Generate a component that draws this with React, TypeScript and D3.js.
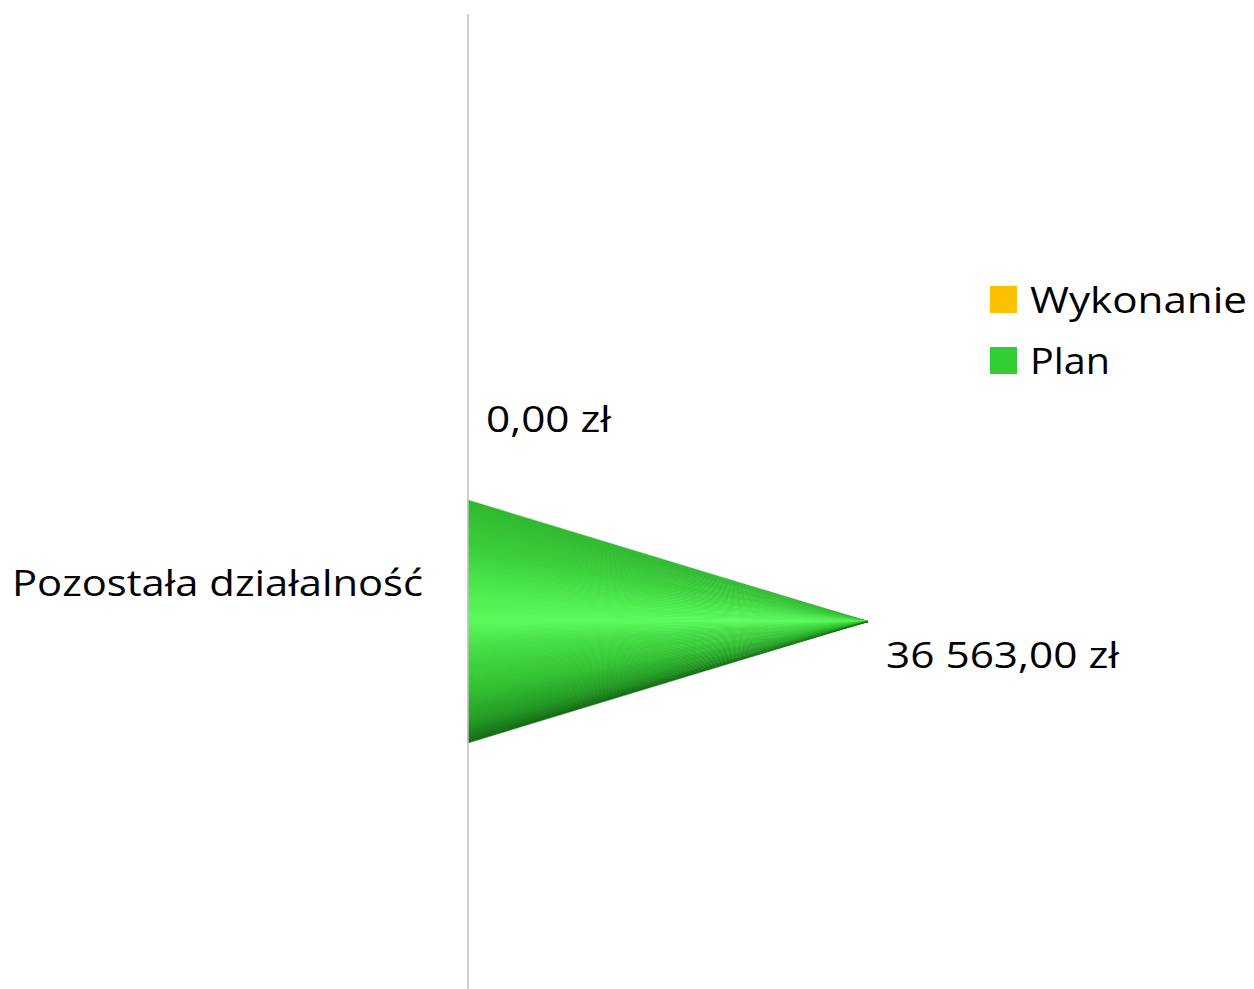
import React from "react";
import * as d3 from "d3";

const categories = ["Pozostała działalność"];
const seriesNames = ["Wykonanie", "Plan"];
const seriesColors = ["#FFC000", "#33CC33"];
const wykonanieValues = [0];
const planValues = [36563];
const valueLabels = ["0,00 zł", "36 563,00 zł"];

const W = 1254;
const H = 989;

const coneStops: [number, string][] = [
  [0, "#30b830"],
  [0.2, "#3bcf3b"],
  [0.4, "#52ef52"],
  [0.5, "#5cfa5c"],
  [0.6, "#48e048"],
  [0.78, "#33c233"],
  [0.92, "#249a24"],
  [1, "#156b15"],
];

function coneColor(t: number) {
  const s = d3
    .scaleLinear<string>()
    .domain(coneStops.map((d) => d[0]))
    .range(coneStops.map((d) => d[1]))
    .interpolate(d3.interpolateRgb)
    .clamp(true);
  return s(t);
}

export default function App() {
  const x = d3.scaleLinear().domain([0, planValues[0]]).range([468, 868]);
  const yCat = d3.scaleBand().domain(categories).range([14, 989]);
  const ySeries = d3
    .scaleBand()
    .domain(seriesNames)
    .range([257, 743])
    .paddingInner(0)
    .paddingOuter(0);
  const font = "'Open Sans', 'Liberation Sans', sans-serif";

  const data = [
    { name: "Wykonanie", value: wykonanieValues[0], label: valueLabels[0] },
    { name: "Plan", value: planValues[0], label: valueLabels[1] },
  ];

  const bw = ySeries.bandwidth();
  const nSlices = 80;

  return (
    <svg width={W} height={H} style={{ position: "absolute", left: 0, top: 0 }}>
      <rect x={0} y={0} width={W} height={H} fill="#fff" />
      {data.map((d) => {
        const y0 = ySeries(d.name)!;
        const tipX = x(d.value);
        const cy = y0 + bw / 2;
        if (d.value <= 0) return null;
        return (
          <g key={d.name}>
            {d3.range(nSlices).map((k) => {
              const a = y0 + (bw * k) / nSlices;
              const b = y0 + (bw * (k + 1)) / nSlices + 0.6;
              return (
                <path
                  key={k}
                  d={`M${x(0)},${a}L${tipX},${cy}L${x(0)},${Math.min(b, y0 + bw)}Z`}
                  fill={coneColor((k + 0.5) / nSlices)}
                  stroke={coneColor((k + 0.5) / nSlices)}
                  strokeWidth={0.4}
                />
              );
            })}
          </g>
        );
      })}
      <line
        x1={x(0)}
        x2={x(0)}
        y1={yCat.range()[0]}
        y2={yCat.range()[1]}
        stroke="#BFBFBF"
        strokeWidth={1.5}
      />
      {data.map((d) => {
        const cy = ySeries(d.name)! + bw / 2;
        return (
          <text
            key={d.name + "l"}
            x={x(d.value) + 18}
            y={cy + (d.value > 0 ? 46 : 53)}
            fontFamily={font}
            fontSize={37}
            fill="#000"
            textLength={d.name === "Plan" ? 233 : 125}
            lengthAdjust="spacingAndGlyphs"
          >
            {d.label}
          </text>
        );
      })}
      {categories.map((c) => (
        <text
          key={c}
          x={12}
          y={ySeries("Plan")! + bw / 2 - 26}
          fontFamily={font}
          fontSize={37}
          fill="#000"
          textLength={411}
          lengthAdjust="spacingAndGlyphs"
        >
          {c}
        </text>
      ))}
      {seriesNames.map((s, i) => {
        const ly = 286 + i * 61;
        return (
          <g key={s}>
            <rect x={990} y={ly} width={27} height={27} fill={seriesColors[i]} />
            <text
              x={1030}
              y={ly + 27}
              fontFamily={font}
              fontSize={37}
              fill="#000"
              textLength={s === "Plan" ? 80 : 217}
              lengthAdjust="spacingAndGlyphs"
            >
              {s}
            </text>
          </g>
        );
      })}
    </svg>
  );
}
